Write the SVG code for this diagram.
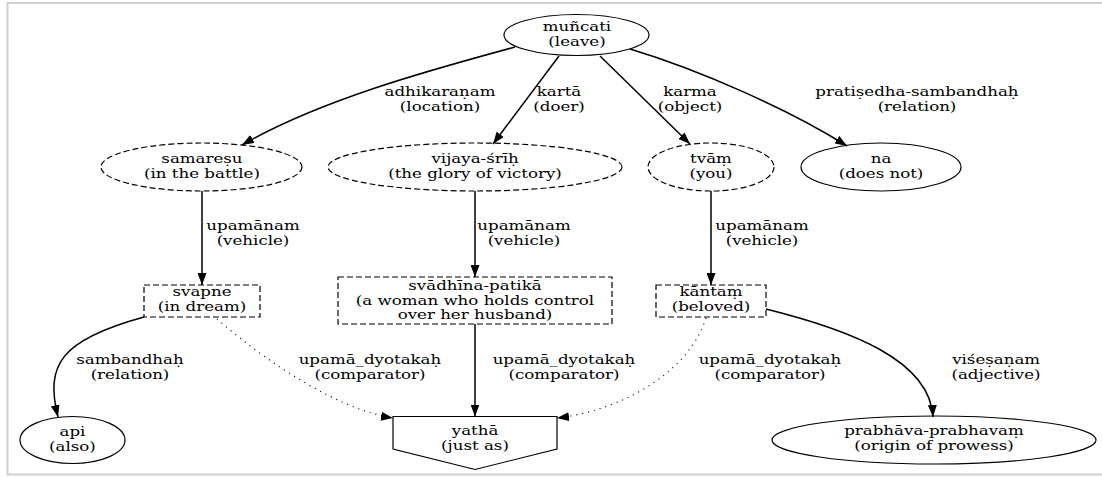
<svg xmlns="http://www.w3.org/2000/svg" width="1102" height="477" viewBox="0 0 1102 477">
  <style>
    text { font-family: "DejaVu Serif", "Liberation Serif", serif; font-size: 13px; fill: #000; text-anchor: middle;
           transform-box: fill-box; transform-origin: center; transform: scaleX(1.28); }
    .node { fill: none; stroke: #000; stroke-width: 1.2; }
    .dashed { stroke-dasharray: 6 3; }
    .edge { fill: none; stroke: #000; stroke-width: 1.5; }
    .dotted { stroke-width: 1.2; stroke-dasharray: 1 5; }
    .frame { fill: none; stroke: #cfcfcf; stroke-width: 2; }
  </style>
  <defs>
    <marker id="arrow" markerUnits="userSpaceOnUse" viewBox="0 0 12 9" markerWidth="12" markerHeight="9" refX="12" refY="4.5" orient="auto">
      <path d="M0,0 L12,4.5 L0,9 Z" fill="#000"/>
    </marker>
  </defs>

  <rect width="1102" height="477" fill="#fff"/>
  <path class="frame" d="M1102,3 H7.5 V474.5 H1102"/>

  <!-- connectors -->
  <g id="edges">
    <path class="edge" d="M515,47 C430,70 320,100 242,145" marker-end="url(#arrow)"/>
    <text x="440" y="96">adhikaraṇam</text><text x="440" y="111">(location)</text>

    <path class="edge" d="M559,56 L493,144" marker-end="url(#arrow)"/>
    <text x="559" y="96">kartā</text><text x="559" y="111">(doer)</text>

    <path class="edge" d="M600,56 L690,144" marker-end="url(#arrow)"/>
    <text x="690" y="96">karma</text><text x="690" y="111">(object)</text>

    <path class="edge" d="M630,49 C700,70 790,110 847,146" marker-end="url(#arrow)"/>
    <text x="917" y="96">pratiṣedha-sambandhaḥ</text><text x="917" y="111">(relation)</text>

    <path class="edge" d="M202,191 L202,285" marker-end="url(#arrow)"/>
    <text x="253" y="230">upamānam</text><text x="253" y="245">(vehicle)</text>

    <path class="edge" d="M475,191 L475,277" marker-end="url(#arrow)"/>
    <text x="524" y="230">upamānam</text><text x="524" y="245">(vehicle)</text>

    <path class="edge" d="M711,191 L711,285" marker-end="url(#arrow)"/>
    <text x="762" y="230">upamānam</text><text x="762" y="245">(vehicle)</text>

    <path class="edge" d="M144,317 C60,340 45,365 58,417" marker-end="url(#arrow)"/>
    <text x="130" y="364">sambandhaḥ</text><text x="130" y="379">(relation)</text>

    <path class="edge dotted" d="M217,319 C270,365 340,410 393,418" marker-end="url(#arrow)"/>
    <text x="370" y="364">upamā_dyotakaḥ</text><text x="370" y="379">(comparator)</text>

    <path class="edge" d="M475,324 L475,416.5" marker-end="url(#arrow)"/>
    <text x="564" y="364">upamā_dyotakaḥ</text><text x="564" y="379">(comparator)</text>

    <path class="edge dotted" d="M706,318 C690,370 625,410 557,418" marker-end="url(#arrow)"/>
    <text x="770" y="364">upamā_dyotakaḥ</text><text x="770" y="379">(comparator)</text>

    <path class="edge" d="M766,309 C850,330 930,360 933,417" marker-end="url(#arrow)"/>
    <text x="996" y="364">viśeṣaṇam</text><text x="996" y="379">(adjective)</text>
  </g>

  <!-- nodes -->
  <g id="muncati">
    <ellipse class="node" cx="576.5" cy="35" rx="72.5" ry="20.5"/>
    <text x="577" y="31.5">muñcati</text><text x="577" y="46.5">(leave)</text>
  </g>
  <g id="samaresu">
    <ellipse class="node dashed" cx="201.5" cy="167" rx="100.5" ry="24"/>
    <text x="202" y="163.5">samareṣu</text><text x="202" y="178.5">(in the battle)</text>
  </g>
  <g id="vijaya-srih">
    <ellipse class="node dashed" cx="475" cy="167" rx="147" ry="24"/>
    <text x="475" y="163.5">vijaya-śrīḥ</text><text x="475" y="178.5">(the glory of victory)</text>
  </g>
  <g id="tvam">
    <ellipse class="node dashed" cx="711" cy="167" rx="63" ry="24"/>
    <text x="711" y="163.5">tvāṃ</text><text x="711" y="178.5">(you)</text>
  </g>
  <g id="na">
    <ellipse class="node" cx="881" cy="167" rx="80" ry="24"/>
    <text x="881" y="163.5">na</text><text x="881" y="178.5">(does not)</text>
  </g>
  <g id="svapne">
    <rect class="node dashed" x="144" y="285" width="116" height="32"/>
    <text x="202" y="296.5">svapne</text><text x="202" y="311.5">(in dream)</text>
  </g>
  <g id="svadhina-patika">
    <rect class="node dashed" x="338" y="277" width="274" height="47"/>
    <text x="475" y="290">svādhīna-patikā</text><text x="475" y="305">(a woman who holds control</text><text x="475" y="319.5">over her husband)</text>
  </g>
  <g id="kantam">
    <rect class="node dashed" x="656" y="285" width="110" height="32"/>
    <text x="711" y="296.5">kāntaṃ</text><text x="711" y="311.5">(beloved)</text>
  </g>
  <g id="api">
    <ellipse class="node" cx="72.5" cy="440" rx="52.5" ry="23.5"/>
    <text x="72.5" y="436">api</text><text x="72.5" y="451">(also)</text>
  </g>
  <g id="yatha">
    <polygon class="node" points="393,416.5 557,416.5 557,449 475,469.5 393,449"/>
    <text x="475" y="435.5">yathā</text><text x="475" y="450.5">(just as)</text>
  </g>
  <g id="prabhava-prabhavam">
    <ellipse class="node" cx="934" cy="440" rx="162" ry="24"/>
    <text x="934" y="435.5">prabhāva-prabhavaṃ</text><text x="934" y="450.5">(origin of prowess)</text>
  </g>
</svg>
